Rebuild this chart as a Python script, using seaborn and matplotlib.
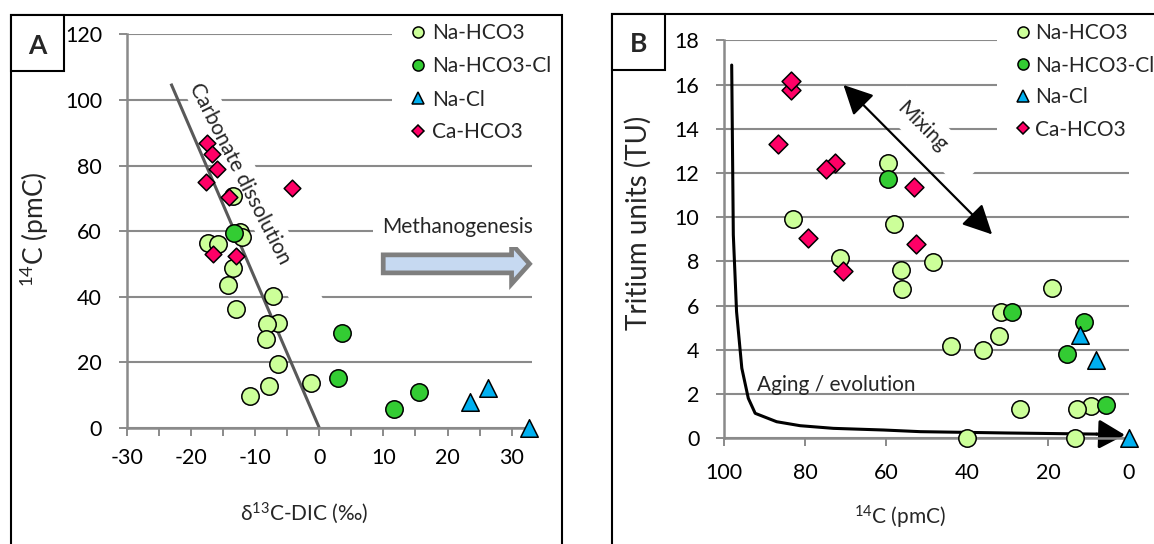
import numpy as np
import matplotlib
matplotlib.use("Agg")
import matplotlib.pyplot as plt
import seaborn as sns
from matplotlib.patches import Rectangle, Polygon, FancyArrow
from matplotlib.lines import Line2D
from matplotlib.transforms import IdentityTransform

# ---------------- data ----------------
series_names = ["Na-HCO3", "Na-HCO3-Cl", "Na-Cl", "Ca-HCO3"]
series_colors = ["#ccff99", "#33cc33", "#00b0f0", "#ff0066"]
series_markers = ["o", "o", "^", "D"]

# Panel A: d13C-DIC (permil) vs 14C (pmC)
a_na_hco3_x = [-17.4, -15.7, -12.3, -12.1, -13.5, -13.5, -14.2, -13.0, -7.2, -6.5, -8.2, -8.3, -6.4, -7.9, -10.8, -1.3]
a_na_hco3_y = [56.3, 56.0, 59.8, 58.3, 70.6, 48.6, 43.7, 36.2, 40.3, 32.1, 31.8, 27.0, 19.3, 12.7, 9.7, 13.7]
a_na_hco3_cl_x = [-13.3, 3.6, 3.0, 11.6, 15.6]
a_na_hco3_cl_y = [59.3, 28.8, 15.2, 5.7, 11.0]
a_na_cl_x = [23.5, 26.3, 32.7]
a_na_cl_y = [7.9, 12.0, 0.0]
a_ca_hco3_x = [-17.5, -16.7, -15.9, -17.7, -14.0, -4.2, -16.5, -12.9]
a_ca_hco3_y = [86.8, 83.4, 79.0, 75.1, 70.3, 73.1, 52.9, 52.5]

# Panel B: 14C (pmC) vs tritium (TU)
b_na_hco3_x = [59.6, 82.9, 58.1, 71.3, 56.2, 56.0, 48.4, 19.1, 31.7, 32.0, 43.9, 36.0, 27.0, 9.5, 12.8, 40.1, 13.4]
b_na_hco3_y = [12.44, 9.92, 9.69, 8.17, 7.61, 6.74, 7.99, 6.81, 5.70, 4.63, 4.19, 3.99, 1.33, 1.48, 1.31, 0.0, 0.0]
b_na_hco3_cl_x = [59.4, 28.8, 11.0, 15.2, 5.8]
b_na_hco3_cl_y = [11.73, 5.70, 5.28, 3.81, 1.51]
b_na_cl_x = [12.2, 8.2, 0.0]
b_na_cl_y = [4.67, 3.54, 0.0]
b_ca_hco3_x = [83.4, 83.4, 86.6, 72.7, 74.8, 53.2, 79.2, 70.6, 52.5]
b_ca_hco3_y = [15.75, 16.16, 13.31, 12.44, 12.18, 11.38, 9.06, 7.58, 8.79]

# annotation shapes
carb_line_x = [-23.1, 0.0]
carb_line_y = [105.0, 0.0]
aging_x = [98.1, 97.7, 96.9, 95.6, 94.0, 92.3, 87.0, 81.2, 73.0, 60.6, 51.5, 30.0, 8.0]
aging_y = [16.88, 9.2, 5.73, 3.17, 1.81, 1.13, 0.75, 0.57, 0.45, 0.375, 0.30, 0.24, 0.19]

a_xticks = [-30, -20, -10, 0, 10, 20, 30]
a_yticks = [0, 20, 40, 60, 80, 100, 120]
b_xticks = [100, 80, 60, 40, 20, 0]
b_yticks = [0, 2, 4, 6, 8, 10, 12, 14, 16, 18]

# ---------------- style ----------------
W, H = 1154, 544
sns.set_theme(style="ticks")
plt.rcParams["font.family"] = ["Lato", "DejaVu Sans"]
plt.rcParams["axes.unicode_minus"] = False

GRID = "#8a8a8a"
FS = 15.5

fig = plt.figure(figsize=(W / 100, H / 100), dpi=100)
fig.patch.set_facecolor("white")


def fx(px):
    return px / W


def fy(py):
    return 1 - py / H


axA = fig.add_axes([fx(126.7), fy(427.7), (532.3 - 126.7) / W, (427.7 - 34.5) / H])
axB = fig.add_axes([fx(724), fy(438.3), (1129 - 724) / W, (438.3 - 40.3) / H])

for ax in (axA, axB):
    ax.set_facecolor("white")
    ax.set_axisbelow(True)
    ax.yaxis.grid(True, color=GRID, lw=1.5)
    ax.xaxis.grid(False)
    for s in ("top", "right"):
        ax.spines[s].set_visible(False)
    for s in ("left", "bottom"):
        ax.spines[s].set_color(GRID)
        ax.spines[s].set_linewidth(1.8)
    ax.tick_params(axis="both", which="both", direction="out", color=GRID, width=1.4,
                   length=5.8, labelsize=FS, labelcolor="black", bottom=True, left=True)

# axes A
axA.set_xlim(-30, 33.2)
axA.set_ylim(0, 120)
axA.set_xticks(a_xticks)
axA.set_xticks([t + 5 for t in a_xticks[:-1]], minor=True)
axA.set_yticks(a_yticks)
axA.tick_params(axis="y", pad=12)
axA.tick_params(axis="x", which="both", pad=9)

# axes B
axB.set_xlim(100, 0)
axB.set_ylim(0, 18)
axB.set_xticks(b_xticks)
axB.set_yticks(b_yticks)
axB.tick_params(axis="y", pad=12)
axB.tick_params(axis="x", pad=12)


def scatter(ax, xs, ys, idx, s):
    sns.scatterplot(x=xs, y=ys, ax=ax, marker=series_markers[idx], s=s,
                    color=series_colors[idx], edgecolor="black", linewidth=1.1,
                    legend=False, zorder=3 + idx, clip_on=False)


scatter(axA, a_na_hco3_x, a_na_hco3_y, 0, 157)
scatter(axA, a_na_hco3_cl_x, a_na_hco3_cl_y, 1, 157)
scatter(axA, a_na_cl_x, a_na_cl_y, 2, 159)
scatter(axA, a_ca_hco3_x, a_ca_hco3_y, 3, 72)

scatter(axB, b_na_hco3_x, b_na_hco3_y, 0, 157)
scatter(axB, b_na_hco3_cl_x, b_na_hco3_cl_y, 1, 157)
scatter(axB, b_na_cl_x, b_na_cl_y, 2, 159)
scatter(axB, b_ca_hco3_x, b_ca_hco3_y, 3, 92)


# ---------- white boxes behind annotation text (hide gridlines) ----------
def white_box(ax, cx, cy, ang, a0, a1, h):
    X, Y = cx, H - cy
    t = np.deg2rad(ang)
    u = np.array([np.cos(t), np.sin(t)])
    v = np.array([-np.sin(t), np.cos(t)])
    c = np.array([X, Y])
    pts = [c + u * a0 - v * h, c + u * a1 - v * h, c + u * a1 + v * h, c + u * a0 + v * h]
    p = Polygon(pts, closed=True, fc="white", ec="none", transform=IdentityTransform(), zorder=1)
    ax.add_patch(p)


white_box(axA, 242.5, 174, -63, -115, 150, 15)     # carbonate dissolution
white_box(axB, 922.5, 126.5, -45, -40, 69, 17.5)   # mixing
axA.add_patch(Rectangle((391.7, H - 145), 160, 125, transform=IdentityTransform(),
                        fc="white", ec="none", zorder=1))
axB.add_patch(Rectangle((996.7, H - 150), 160, 130, transform=IdentityTransform(),
                        fc="white", ec="none", zorder=1))

# ---------- panel A annotations ----------
axA.plot(carb_line_x, carb_line_y, color="#595959", lw=2.2, zorder=2, solid_capstyle="butt")
axA.text(-12.35, 77.4, "Carbonate dissolution", rotation=-63, rotation_mode="anchor",
         ha="center", va="center", fontsize=15, zorder=2.5)
axA.text(9.8, 59.3, "Methanogenesis", ha="left", va="baseline", fontsize=15, zorder=2.5,
         bbox=dict(boxstyle="square,pad=0.45", fc="white", ec="none"))
axA.add_patch(FancyArrow(9.97, 50.0, 22.8, 0, width=5.5, head_width=12.2, head_length=2.8,
                         length_includes_head=True, fc="#c6d9f1", ec="#7f7f7f", lw=3.4,
                         joinstyle="miter", clip_on=False, zorder=2))

# ---------- panel B annotations ----------
axB.plot(aging_x, aging_y, color="black", lw=2.2, zorder=2, solid_joinstyle="round")
axB.annotate("", xy=(1.0, 0.15), xytext=(aging_x[-1], aging_y[-1]),
             arrowprops=dict(arrowstyle="-|>,head_length=1.0,head_width=0.56", mutation_scale=16,
                             color="black", lw=2.2, shrinkA=0, shrinkB=0), zorder=2)
axB.text(91.8, 2.12, "Aging / evolution", ha="left", va="baseline", fontsize=15, zorder=2.5)
axB.annotate("", xy=(70.5, 15.98), xytext=(33.8, 9.22),
             arrowprops=dict(arrowstyle="<|-|>,head_length=1.0,head_width=0.5", mutation_scale=18,
                             color="black", lw=1.6, shrinkA=0, shrinkB=0), zorder=2.5)
axB.text(51.0, 14.1, "Mixing", rotation=-45, rotation_mode="anchor", ha="center", va="center",
         fontsize=15, zorder=2.5)


# ---------- legends ----------
def legend(ax, mx, tx, rows):
    for i, (name, ry) in enumerate(zip(series_names, rows)):
        ms = {"o": 8.0, "^": 8.2, "D": 6.2}[series_markers[i]]
        ax.add_line(Line2D([fx(mx)], [fy(ry)], transform=fig.transFigure, marker=series_markers[i],
                           ms=ms, mfc=series_colors[i], mec="black", mew=1.1, ls="none",
                           clip_on=False, zorder=6))
        fig.text(fx(tx), fy(ry + 7.4), name, ha="left", va="baseline", fontsize=15)


legend(axA, 418.3, 431.7, [31.7, 65.0, 98.3, 131.0])
legend(axB, 1022.7, 1035.0, [31.7, 64.3, 95.7, 128.3])

# ---------- axis titles ----------
fig.text(fx(35), fy(229), r"$\mathregular{^{14}}$C (pmC)", rotation=90, ha="center", va="center",
         fontsize=19)
fig.text(fx(304), fy(513.5), r"δ$\mathregular{^{13}}$C-DIC (‰)", ha="center", va="center",
         fontsize=15)
fig.text(fx(637.8), fy(223), "Tritium units (TU)", rotation=90, ha="center", va="center",
         fontsize=20)
fig.text(fx(900), fy(517), r"$\mathregular{^{14}}$C (pmC)", ha="center", va="center", fontsize=15)

# ---------- panel frames and letters ----------
fig.add_artist(Rectangle((fx(11), fy(700)), (562.3 - 11) / W, (700 - 14.6) / H,
                         transform=fig.transFigure, fill=False, ec="black", lw=1.5))
fig.add_artist(Rectangle((fx(612.2), fy(700)), (1400 - 612.2) / W, (700 - 13.9) / H,
                         transform=fig.transFigure, fill=False, ec="black", lw=1.5))
fig.add_artist(Rectangle((fx(11), fy(71.1)), (63.6 - 11) / W, (71.1 - 14.6) / H,
                         transform=fig.transFigure, fc="white", ec="black", lw=1.5))
fig.add_artist(Rectangle((fx(612.2), fy(70.4)), (665.3 - 612.2) / W, (70.4 - 13.9) / H,
                         transform=fig.transFigure, fc="white", ec="black", lw=1.5))
fig.text(fx(37.3), fy(53.7), "A", ha="center", va="baseline", fontsize=19, fontweight="bold")
fig.text(fx(638.5), fy(52.0), "B", ha="center", va="baseline", fontsize=19, fontweight="bold")

fig.savefig("out.png", dpi=100, facecolor="white")
